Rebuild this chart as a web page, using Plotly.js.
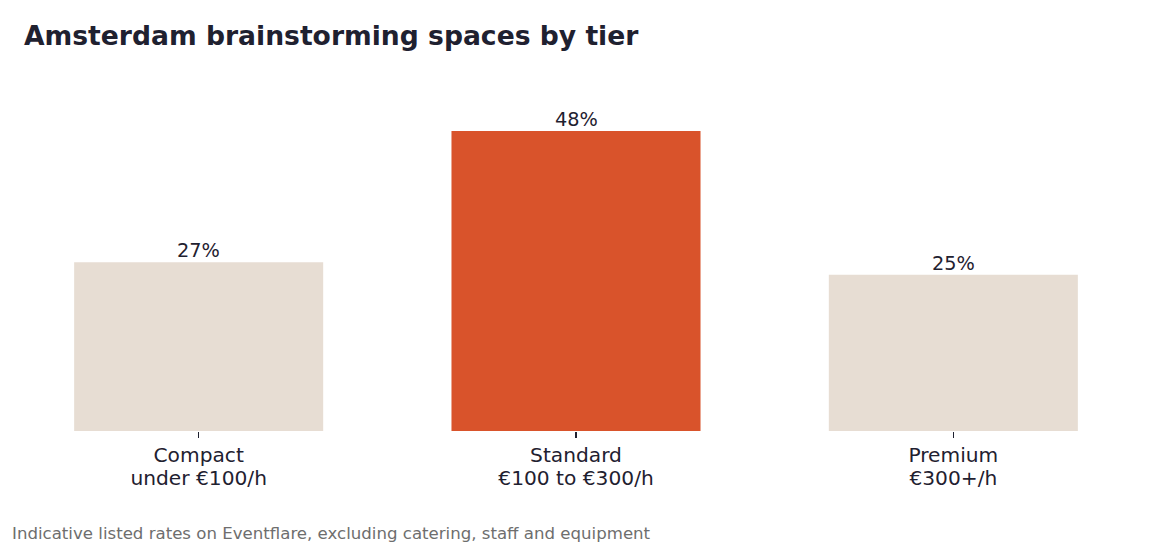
<!DOCTYPE html>
<html>
<head>
<meta charset="utf-8">
<script src="https://cdn.plot.ly/plotly-3.0.1.min.js"></script>
<style>
  html, body { margin: 0; padding: 0; background: #ffffff; }
  #chart { width: 1152px; height: 544px; }
</style>
</head>
<body>
<div id="chart"></div>
<script>
const tierNames = ['Compact', 'Standard', 'Premium'];
const tierRates = ['under €100/h', '€100 to €300/h', '€300+/h'];
const shares = [27, 48, 25];
const barColors = ['#e7ddd3', '#d9532b', '#e7ddd3'];

const INK = '#1f2130';
const FONT = 'DejaVu Sans, sans-serif';

// label font is bigger than the base tick font so the two lines sit tighter
const tickText = tierNames.map(
  (name, i) => `<span style="font-size:20.2px">${name}<br>${tierRates[i]}</span>`,
);

// value labels sit a little closer to the bars than textposition:'outside' allows
const valueLabels = shares.map((v, i) => ({
  text: `${v}%`,
  x: tierNames[i],
  y: v,
  xref: 'x',
  yref: 'y',
  xanchor: 'center',
  yanchor: 'bottom',
  yshift: -2,
  showarrow: false,
  font: { family: FONT, size: 19.3, color: INK },
}));

Plotly.newPlot(
  'chart',
  [
    {
      type: 'bar',
      x: tierNames,
      y: shares,
      width: 0.66,
      marker: { color: barColors, line: { width: 0 } },
      hoverinfo: 'skip',
    },
  ],
  {
    width: 1152,
    height: 544,
    margin: { l: 10, r: 10, t: 86, b: 113 },
    paper_bgcolor: '#ffffff',
    plot_bgcolor: '#ffffff',
    showlegend: false,
    font: { family: FONT, color: INK },
    title: {
      text: '<b>Amsterdam brainstorming spaces by tier</b>',
      font: { family: FONT, size: 26.6, color: INK },
      x: 24 / 1152,
      xanchor: 'left',
      y: 1 - 36 / 544,
      yanchor: 'middle',
    },
    xaxis: {
      tickvals: tierNames,
      ticktext: tickText,
      showgrid: false,
      zeroline: false,
      showline: false,
      ticks: 'outside',
      ticklen: 6,
      tickwidth: 1.5,
      tickcolor: INK,
      ticklabelstandoff: 4,
      tickfont: { family: FONT, size: 17, color: INK },
      fixedrange: true,
    },
    yaxis: {
      range: [0, 55.2],
      visible: false,
      showgrid: false,
      zeroline: false,
      fixedrange: true,
    },
    annotations: [
      ...valueLabels,
      {
        text: 'Indicative listed rates on Eventflare, excluding catering, staff and equipment',
        xref: 'paper',
        yref: 'paper',
        x: 0,
        y: -(533 - 431) / 345,
        xanchor: 'left',
        yanchor: 'middle',
        showarrow: false,
        font: { family: FONT, size: 16.6, color: '#6e6e6e' },
      },
    ],
  },
  { displayModeBar: false, staticPlot: true },
);
</script>
</body>
</html>
